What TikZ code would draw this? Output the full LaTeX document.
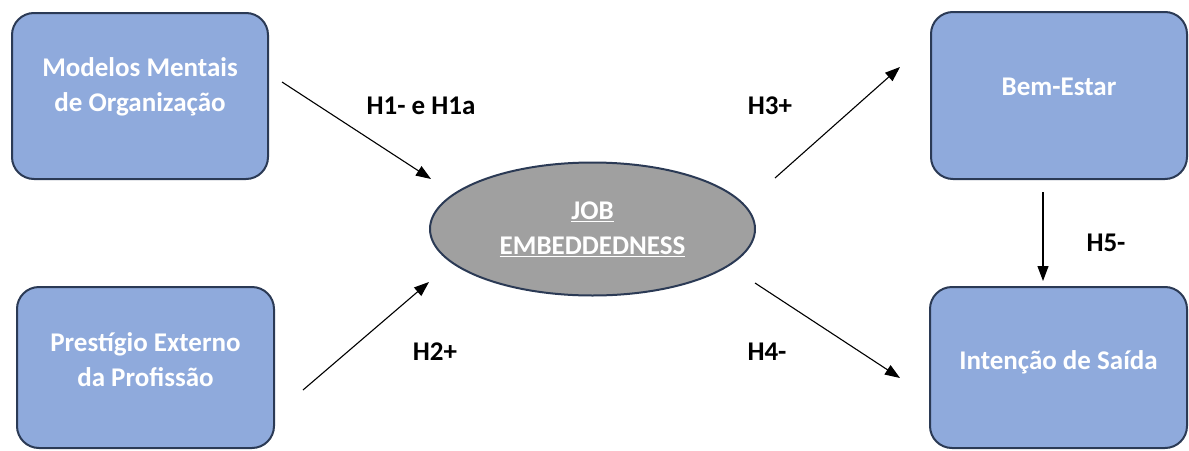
\documentclass[tikz,border=0pt]{standalone}
\usepackage{fontspec}
\setmainfont{Carlito}
\usetikzlibrary{arrows.meta,shapes.geometric}
\definecolor{boxfill}{HTML}{8FAADC}
\definecolor{boxline}{HTML}{2B3A55}
\definecolor{ellfill}{HTML}{A0A0A0}
\tikzset{
  box/.style={draw=boxline,line width=2pt,fill=boxfill,rounded corners=22pt,inner sep=0pt},
  boxtext/.style={text=white,font=\bfseries\fontsize{27}{35}\selectfont,align=center},
  ell/.style={ellipse,draw=boxline,line width=2pt,fill=ellfill,inner sep=0pt,text=white,font=\bfseries\fontsize{27}{35}\selectfont,align=center},
  hyp/.style={font=\bfseries\fontsize{27}{30}\selectfont,text=black},
  arr/.style={line width=1.1pt,-{Triangle[length=15pt,width=11pt]}}
}
\begin{document}
\begin{tikzpicture}[x=1pt,y=-1pt]
\useasboundingbox (0,0) rectangle (1189,450);
\node[box,minimum width=256pt,minimum height=166pt] (m) at (140,96) {};
\node[boxtext] (mt) at (140,87) {Modelos Mentais\\de Organização};
\node[box,minimum width=257pt,minimum height=161pt] (p) at (145.5,367.5) {};
\node[boxtext] (pt) at (145.5,360) {Prestígio Externo\\da Profissão};
\node[box,minimum width=256pt,minimum height=167pt] (b) at (1059,95.5) {};
\node[boxtext] (bt) at (1059,87) {Bem-Estar};
\node[box,minimum width=257pt,minimum height=161pt] (s) at (1058.5,367.5) {};
\node[boxtext] (st) at (1058.5,362) {Intenção de Saída};
\node[ell,minimum width=325pt,minimum height=133pt] (je) at (592.5,229) {\underline{JOB}\\\underline{EMBEDDEDNESS}};
\coordinate (a1s) at (282,82);  \coordinate (a1e) at (431,179);
\coordinate (a2s) at (303,390); \coordinate (a2e) at (429,282);
\coordinate (a3s) at (775,178); \coordinate (a3e) at (900,67);
\coordinate (a4s) at (755,283); \coordinate (a4e) at (900,378);
\coordinate (a5s) at (1043,192); \coordinate (a5e) at (1043,281);
\draw[arr] (a1s) -- (a1e);
\draw[arr] (a2s) -- (a2e);
\draw[arr] (a3s) -- (a3e);
\draw[arr] (a4s) -- (a4e);
\draw[arr] (a5s) -- (a5e);
\node[hyp] (h1) at (421,106) {H1- e H1a};
\node[hyp] (h3) at (770,106) {H3+};
\node[hyp] (h2) at (435,352) {H2+};
\node[hyp] (h4) at (767,352) {H4-};
\node[hyp] (h5) at (1106,243) {H5-};
\end{tikzpicture}
\end{document}
